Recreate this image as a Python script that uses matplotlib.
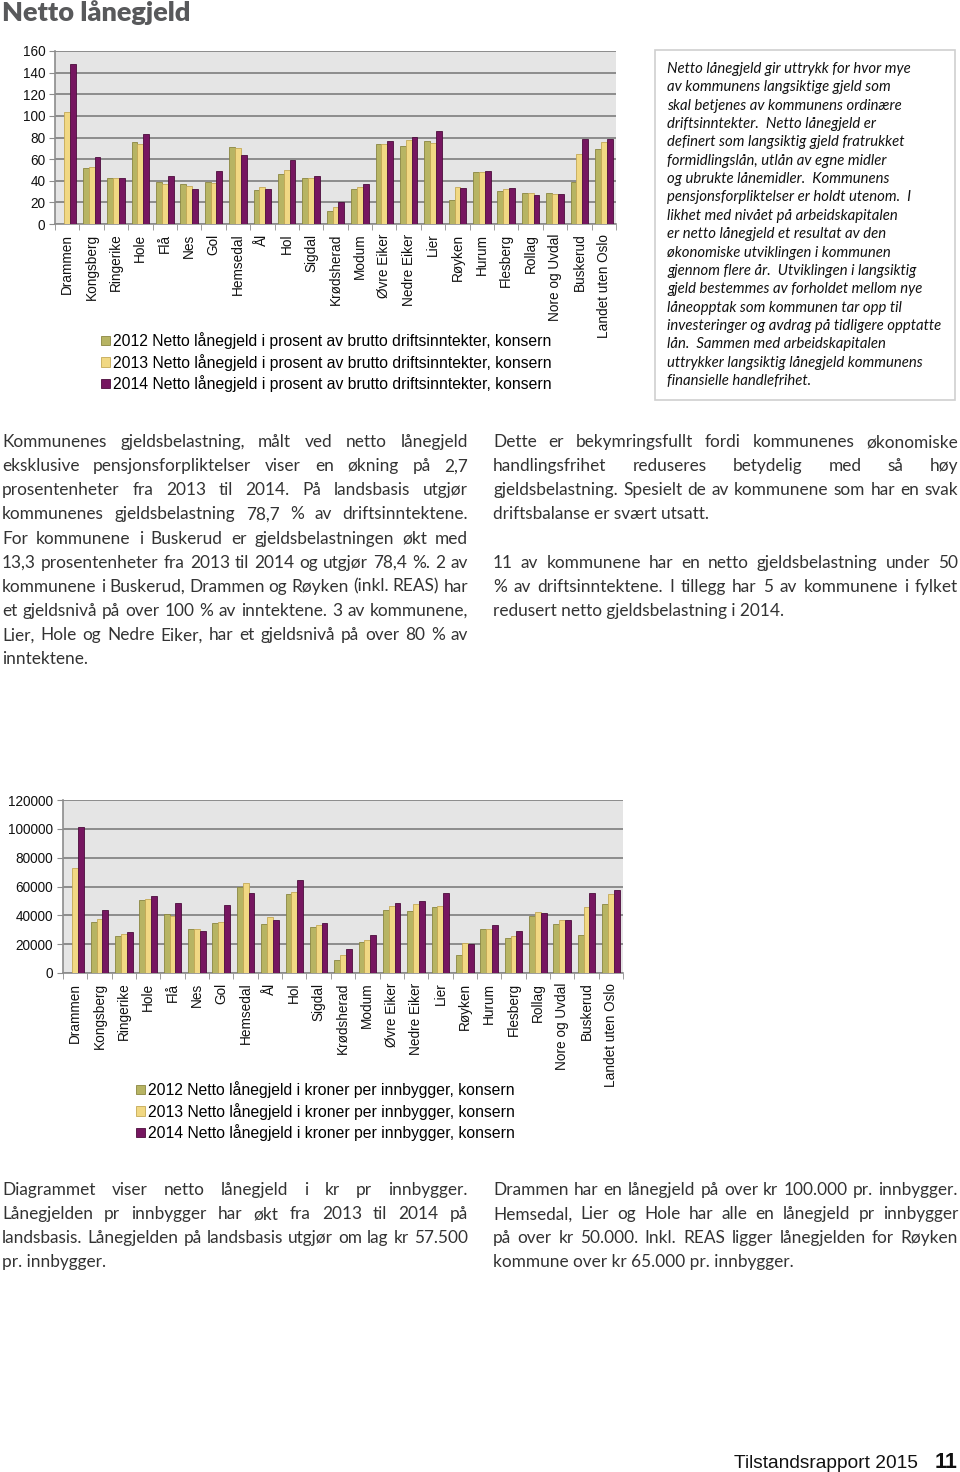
import numpy as np
import matplotlib
matplotlib.use("Agg")
import matplotlib.pyplot as plt
from matplotlib.patches import Rectangle

# ---------------- data ----------------
kommuner = ["Drammen", "Kongsberg", "Ringerike", "Hole", "Flå", "Nes", "Gol",
            "Hemsedal", "Ål", "Hol", "Sigdal", "Krødsherad", "Modum",
            "Øvre Eiker", "Nedre Eiker", "Lier", "Røyken", "Hurum", "Flesberg",
            "Rollag", "Nore og Uvdal", "Buskerud", "Landet uten Oslo"]

pst_2012 = [np.nan, 52, 43, 75.5, 39, 36.7, 39, 71, 31, 46.5, 43, 12, 32, 74,
            72.4, 76.5, 22, 48, 30.5, 29, 29, 38.5, 69]
pst_2013 = [104, 53, 43, 74, 37, 35, 37.6, 70, 34, 50, 43, 16, 34, 74,
            77.7, 74.6, 34.5, 48, 32, 29, 28, 65, 76]
pst_2014 = [148, 62, 43, 83, 44, 32, 49, 63.5, 32, 59, 44, 20.6, 37, 77,
            80.5, 86, 33, 49, 33.6, 27, 27.7, 78.6, 79]

kr_2012 = [np.nan, 35500, 25800, 50500, 40800, 30500, 34400, 59500, 34200,
           54900, 31600, 9000, 21200, 43600, 42700, 45900, 12700, 30700,
           24000, 39200, 33700, 26100, 47800]
kr_2013 = [72700, 37400, 27200, 51500, 39700, 30500, 35100, 62500, 38800,
           56500, 33200, 12200, 22800, 46200, 47800, 46600, 20500, 30700,
           25800, 42000, 36500, 45700, 54900]
kr_2014 = [101500, 43600, 28200, 53300, 48500, 28800, 47300, 55600, 36500,
           64600, 34400, 16400, 26100, 48700, 49600, 55400, 20300, 33000,
           28800, 41500, 36500, 55200, 57700]

aar = ["2012", "2013", "2014"]
pst_label = " Netto lånegjeld i prosent av brutto driftsinntekter, konsern"
kr_label = " Netto lånegjeld i kroner per innbygger, konsern"

tittel = "Netto lånegjeld"

boks_linjer = [
    "Netto lånegjeld gir uttrykk for hvor mye",
    "av kommunens langsiktige gjeld som",
    "skal betjenes av kommunens ordinære",
    "driftsinntekter.  Netto lånegjeld er",
    "definert som langsiktig gjeld fratrukket",
    "formidlingslån, utlån av egne midler",
    "og ubrukte lånemidler.  Kommunens",
    "pensjonsforpliktelser er holdt utenom.  I",
    "likhet med nivået på arbeidskapitalen",
    "er netto lånegjeld et resultat av den",
    "økonomiske utviklingen i kommunen",
    "gjennom flere år.  Utviklingen i langsiktig",
    "gjeld bestemmes av forholdet mellom nye",
    "låneopptak som kommunen tar opp til",
    "investeringer og avdrag på tidligere opptatte",
    "lån.  Sammen med arbeidskapitalen",
    "uttrykker langsiktig lånegjeld kommunens",
    "finansielle handlefrihet.",
]

# (text, justify)
avsnitt1 = [
    ("Kommunenes gjeldsbelastning, målt ved netto lånegjeld", True),
    ("eksklusive pensjonsforpliktelser viser en økning på 2,7", True),
    ("prosentenheter fra 2013 til 2014.  På landsbasis utgjør", True),
    ("kommunenes gjeldsbelastning 78,7 % av driftsinntektene.", True),
    ("For kommunene i Buskerud er gjeldsbelastningen økt med", True),
    ("13,3 prosentenheter fra 2013 til 2014 og utgjør 78,4 %. 2 av", True),
    ("kommunene i Buskerud, Drammen og Røyken (inkl. REAS) har", True),
    ("et gjeldsnivå på over 100 % av inntektene. 3 av kommunene,", True),
    ("Lier, Hole og Nedre Eiker, har et gjeldsnivå på over 80 % av", True),
    ("inntektene.", False),
]
avsnitt2 = [
    ("Dette er bekymringsfullt fordi kommunenes økonomiske", True),
    ("handlingsfrihet reduseres betydelig med så høy", True),
    ("gjeldsbelastning. Spesielt de av kommunene som har en svak", True),
    ("driftsbalanse er svært utsatt.", False),
    ("", False),
    ("11 av kommunene har en netto gjeldsbelastning under 50", True),
    ("% av driftsinntektene.  I tillegg har 5 av kommunene i fylket", True),
    ("redusert netto gjeldsbelastning i 2014.", False),
]
avsnitt3 = [
    ("Diagrammet viser netto lånegjeld i kr pr innbygger.", True),
    ("Lånegjelden pr innbygger har økt fra 2013 til 2014 på", True),
    ("landsbasis. Lånegjelden på landsbasis utgjør om lag kr 57.500", True),
    ("pr. innbygger.", False),
]
avsnitt4 = [
    ("Drammen har en lånegjeld på over kr 100.000 pr. innbygger.", True),
    ("Hemsedal, Lier og Hole har alle en lånegjeld pr innbygger", True),
    ("på over kr 50.000.  Inkl. REAS ligger lånegjelden for Røyken", True),
    ("kommune over kr 65.000 pr. innbygger.", False),
]

# ---------------- style ----------------
W, H = 960, 1472
farger = ["#b7b463", "#f1d883", "#761660"]
kanter = ["#8a8640", "#c4a955", "#4c0c3c"]
BAKGRUNN = "#e5e5e5"
GRID = "#8c8c8c"
BRODTEKST = "Lato"
DIAGRAMFONT = "Liberation Sans"

fig = plt.figure(figsize=(W / 100, H / 100), dpi=100)


def ax_px(left, top, right, bottom):
    return fig.add_axes([left / W, 1 - bottom / H, (right - left) / W, (bottom - top) / H])


def soylediagram(ax, serier, yticks, etikett, leg_x, leg_y):
    x = np.arange(len(kommuner))
    bw = 0.24
    handles = []
    for i, (s, f, k) in enumerate(zip(serier, farger, kanter)):
        b = ax.bar(x + (i - 1) * bw, s, bw, color=f, edgecolor=k, linewidth=0.6, zorder=3)
        handles.append(b)
    ax.set_facecolor(BAKGRUNN)
    ax.set_xlim(-0.5, len(kommuner) - 0.5)
    ax.set_ylim(yticks[0], yticks[-1])
    ax.set_yticks(yticks)
    ax.yaxis.grid(True, color=GRID, linewidth=1.4, zorder=1)
    ax.set_xticks(x)
    ax.set_xticklabels(kommuner, rotation=90, fontsize=9.8, family=DIAGRAMFONT, color="#111111")
    ax.set_xticks(np.arange(len(kommuner) + 1) - 0.5, minor=True)
    ax.tick_params(axis="x", which="major", length=0, pad=7)
    ax.tick_params(axis="x", which="minor", length=4, color=GRID, direction="out")
    ax.tick_params(axis="y", length=4, color=GRID, labelsize=9.8, pad=3)
    for t in ax.get_yticklabels():
        t.set_family(DIAGRAMFONT)
        t.set_color("#111111")
    for side in ["top", "right"]:
        ax.spines[side].set_visible(False)
    for side in ["left", "bottom"]:
        ax.spines[side].set_color(GRID)
        ax.spines[side].set_linewidth(1.2)
    fig.legend(handles, [a + etikett for a in aar], loc="upper left",
               bbox_to_anchor=(leg_x / W, 1 - leg_y / H), frameon=False,
               prop={"family": DIAGRAMFONT, "size": 11.3},
               handlelength=0.55, handleheight=0.55, handletextpad=0.2,
               labelspacing=0.3, borderpad=0, borderaxespad=0)


ax1 = ax_px(55, 51, 616, 224)
soylediagram(ax1, [pst_2012, pst_2013, pst_2014], np.arange(0, 161, 20),
             pst_label, 101, 332)

ax2 = ax_px(63, 800, 623, 973)
soylediagram(ax2, [kr_2012, kr_2013, kr_2014], np.arange(0, 120001, 20000),
             kr_label, 136, 1081)

# ---------------- texts ----------------
fig.text(2 / W, 1 - 21 / H, tittel, fontsize=19.5, fontweight="heavy",
         color="#58595b", family=BRODTEKST, va="baseline")

fig.patches.append(Rectangle((655 / W, 1 - 400 / H), 300 / W, 350 / H,
                             transform=fig.transFigure, fill=False,
                             edgecolor="#cfcfcf", linewidth=1.2))
for i, linje in enumerate(boks_linjer):
    fig.text(667 / W, 1 - (73 + i * 18.35) / H, linje, fontsize=10.7,
             style="italic", family=BRODTEKST, color="#111111", va="baseline")

renderer = fig.canvas.get_renderer()


def blokk(linjer, x0, x1, baseline0, dy, size=12.4):
    for i, (linje, just) in enumerate(linjer):
        if not linje:
            continue
        y = 1 - (baseline0 + i * dy) / H
        if not just:
            fig.text(x0 / W, y, linje, fontsize=size, family=BRODTEKST,
                     color="#333333", va="baseline")
            continue
        ord_ = linje.split()
        tekster = [fig.text(0, y, o, fontsize=size, family=BRODTEKST,
                            color="#333333", va="baseline") for o in ord_]
        bredder = [t.get_window_extent(renderer).width for t in tekster]
        mellom = (x1 - x0 - sum(bredder)) / max(len(ord_) - 1, 1)
        xp = x0
        for t, b in zip(tekster, bredder):
            t.set_x(xp / W)
            xp += b + mellom


blokk(avsnitt1, 2, 468, 447, 24.15)
blokk(avsnitt2, 493, 958, 447, 24.15)
blokk(avsnitt3, 2, 468, 1195, 24.15)
blokk(avsnitt4, 493, 958, 1195, 24.15)

fig.text(918 / W, 1 - 1468 / H, "Tilstandsrapport 2015", fontsize=13.8,
         family=DIAGRAMFONT, color="#111111", ha="right", va="baseline")
fig.text(958 / W, 1 - 1468 / H, "11", fontsize=15.5, fontweight="bold",
         family=DIAGRAMFONT, color="#111111", ha="right", va="baseline")

fig.savefig("out.png", dpi=100)
